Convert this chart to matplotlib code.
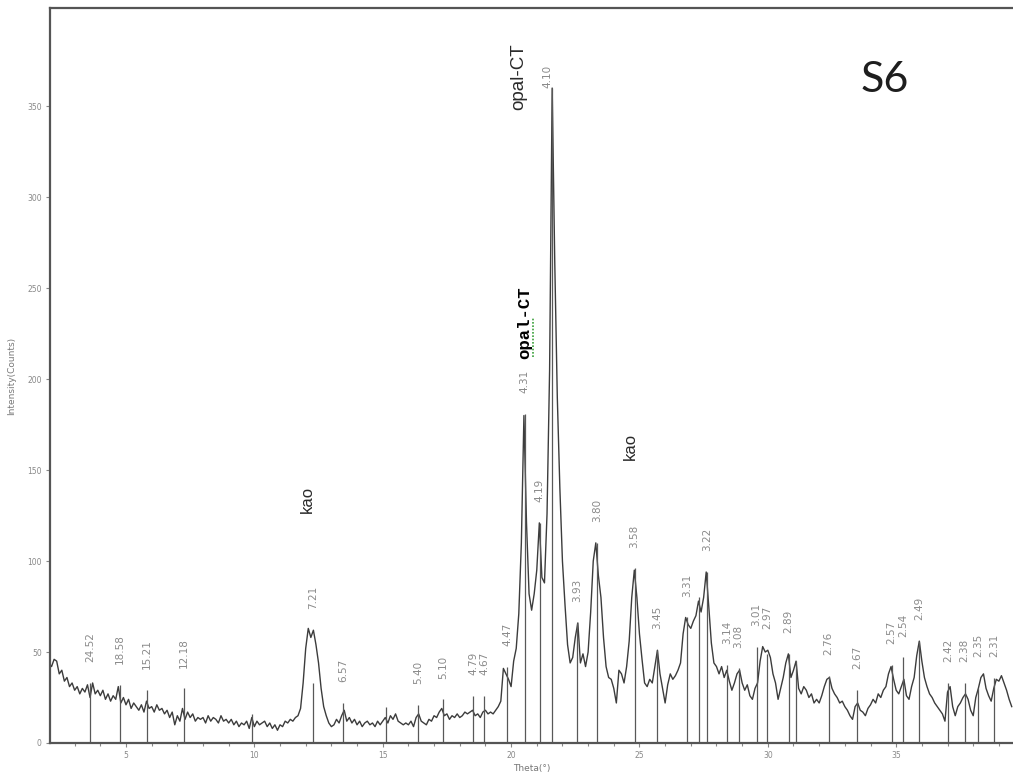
import numpy as np
import matplotlib.pyplot as plt
from matplotlib.ticker import MultipleLocator, FixedLocator

# XRD scan, 2-theta 2.0 .. 39.5 deg, step 0.1 (one row per degree)
counts = [
    44, 42, 46, 45, 38, 40, 34, 36, 31, 33,    # 2
    29, 31, 27, 30, 28, 32, 25, 33, 27, 29,    # 3
    26, 29, 24, 27, 23, 26, 24, 31, 22, 25,    # 4
    21, 24, 19, 22, 20, 18, 21, 17, 23, 19,    # 5
    20, 17, 21, 18, 19, 16, 18, 14, 17, 10,    # 6
    15, 12, 19, 13, 17, 14, 16, 12, 14, 13,    # 7
    14, 11, 15, 12, 14, 13, 11, 15, 12, 13,    # 8
    11, 13, 10, 12, 9, 11, 10, 12, 8, 14,      # 9
    9, 12, 10, 11, 12, 9, 11, 8, 10, 7,        # 10
    10, 9, 12, 11, 13, 12, 14, 15, 19, 33,     # 11
    52, 63, 58, 62, 54, 44, 30, 20, 15, 11,    # 12
    9, 10, 13, 11, 15, 18, 12, 14, 11, 13,     # 13
    10, 12, 9, 11, 12, 10, 11, 9, 12, 10,      # 14
    12, 14, 11, 15, 13, 16, 12, 11, 10, 11,    # 15
    10, 12, 9, 14, 16, 12, 11, 10, 13, 12,     # 16
    15, 14, 17, 19, 15, 16, 13, 15, 14, 16,    # 17
    14, 15, 17, 16, 17, 18, 15, 16, 14, 17,    # 18
    18, 16, 17, 16, 18, 20, 23, 41, 38, 35,    # 19
    31, 45, 52, 71, 110, 180, 121, 82, 73, 82,     # 20
    95, 121, 91, 88, 126, 205, 360, 265, 190, 140, # 21
    100, 76, 54, 44, 47, 58, 66, 44, 49, 42,   # 22
    50, 72, 100, 110, 92, 80, 58, 42, 36, 35,  # 23
    30, 22, 40, 38, 33, 42, 56, 80, 95, 80,    # 24
    60, 46, 33, 31, 35, 33, 42, 51, 38, 30,    # 25
    22, 32, 38, 35, 37, 40, 44, 60, 69, 65,    # 26
    63, 67, 70, 78, 72, 80, 94, 75, 55, 44,    # 27
    42, 38, 42, 36, 40, 34, 29, 33, 38, 40,    # 28
    33, 29, 32, 26, 24, 30, 33, 45, 53, 50,    # 29
    51, 47, 38, 33, 24, 30, 36, 44, 49, 36,    # 30
    40, 45, 30, 27, 31, 29, 25, 27, 22, 24,    # 31
    22, 26, 31, 35, 36, 30, 27, 25, 22, 23,    # 32
    20, 18, 15, 13, 20, 22, 18, 17, 15, 19,    # 33
    21, 24, 22, 27, 25, 29, 31, 38, 42, 35,    # 34
    29, 27, 31, 35, 26, 24, 31, 36, 48, 56,    # 35
    45, 36, 31, 27, 25, 22, 20, 18, 16, 12,    # 36
    28, 31, 20, 15, 20, 22, 25, 27, 24, 18,    # 37
    15, 25, 30, 36, 38, 30, 26, 23, 30, 35,    # 38
    34, 37, 33, 29, 24, 20,                    # 39
]
theta = np.round(2.0 + 0.1 * np.arange(len(counts)), 1)

# peak markers (2-theta, stick height, d-spacing label)
peak_theta = [3.60, 4.75, 5.81, 7.27, 9.89, 12.27, 13.45, 15.14, 16.37, 17.35,
              18.52, 18.95, 19.84, 20.53, 21.11, 21.59, 22.56, 23.35, 24.81, 25.69,
              26.84, 27.31, 27.62, 28.40, 28.86, 29.56, 29.97, 30.81, 31.09, 32.37,
              33.47, 34.82, 35.27, 35.89, 37.03, 37.67, 38.20, 38.81]
peak_height = [33, 32, 29, 30, 16, 33, 22, 20, 21, 24,
               26, 26, 42, 181, 121, 360, 66, 110, 96, 51,
               69, 80, 94, 43, 41, 53, 49, 49, 45, 37,
               29, 43, 47, 56, 33, 33, 30, 36]
peak_label = ["24.52", "18.58", "15.21", "12.18", "", "7.21", "6.57", "", "5.40", "5.10",
              "4.79", "4.67", "4.47", "4.31", "4.19", "4.10", "3.93", "3.80", "3.58", "3.45",
              "3.31", "", "3.22", "3.14", "3.08", "3.01", "2.97", "2.89", "", "2.76",
              "2.67", "2.57", "2.54", "2.49", "2.42", "2.38", "2.35", "2.31"]

# phase names
phase_text = ["kao", "kao", "opal-CT"]
phase_theta = [12.08, 24.65, 20.30]
phase_y = [134, 163, 366]

fig = plt.figure(figsize=(10.13, 7.75), dpi=100)
ax = fig.add_axes([50 / 1013, 32 / 775, 963 / 1013, 735 / 775])

ax.plot(theta, counts, color='#3c3c3c', lw=1.0)
ax.vlines(peak_theta, 0, peak_height, color='#585858', lw=0.9)

# d-spacing labels sit a little above the stick / local trace top
nudge = {"4.10": (-3, 0)}
for t, h, lab in zip(peak_theta, peak_height, peak_label):
    if not lab:
        continue
    near = np.abs(theta - t) <= 0.1
    top = max(h, max(np.array(counts)[near]))
    dx, dy = nudge.get(lab, (0, 15))
    ax.annotate(lab, (t, top), xytext=(dx, dy), textcoords='offset points',
                rotation=90, ha='center', va='bottom', fontsize=7.5, color='#8a8a8a')

ax.text(phase_theta[0], phase_y[0], phase_text[0], rotation=90, ha='center', va='center',
        fontsize=12, color='#2a2a2a', family='Liberation Sans')
ax.text(phase_theta[1], phase_y[1], phase_text[1], rotation=90, ha='center', va='center',
        fontsize=12, color='#2a2a2a', family='Liberation Sans')
ax.text(phase_theta[2], phase_y[2], phase_text[2], rotation=90, ha='center', va='center',
        fontsize=13.5, color='#2a2a2a', family='Liberation Sans')

# second opal-CT tag (pasted in another font, with the spell-check squiggle)
ax.text(20.53, 231, "opal-CT", rotation=90, ha='center', va='center',
        fontsize=12.5, color='black', family='Liberation Mono', fontweight='bold')
ax.plot([20.86, 20.86], [212, 234], color='#3aa03a', lw=1.2, ls=(0, (1, 1)))

ax.text(0.867, 0.902, "S6", transform=ax.transAxes, ha='center', va='center',
        fontsize=31, color='#1e1e1e', family='Lato', fontweight='normal')

ax.set_xlim(2.04, 39.55)
ax.set_ylim(0, 404)
ax.xaxis.set_major_locator(MultipleLocator(5))
ax.xaxis.set_minor_locator(MultipleLocator(1))
ax.yaxis.set_major_locator(FixedLocator([0, 50, 100, 150, 200, 250, 300, 350]))

for s in ['left', 'bottom', 'top']:
    ax.spines[s].set_color('#555555')
    ax.spines[s].set_linewidth(1.6)
ax.spines['right'].set_visible(False)

ax.tick_params(which='both', colors='#888888', labelsize=5.5, width=0.8)
ax.tick_params(which='major', length=3, pad=3)
ax.tick_params(which='minor', length=2)

ax.set_xlabel('Theta(°)', fontsize=6.5, color='#777777', labelpad=3)
ax.set_ylabel('Intensity(Counts)', fontsize=6.5, color='#777777', labelpad=8)

fig.savefig('out.png', dpi=100)
